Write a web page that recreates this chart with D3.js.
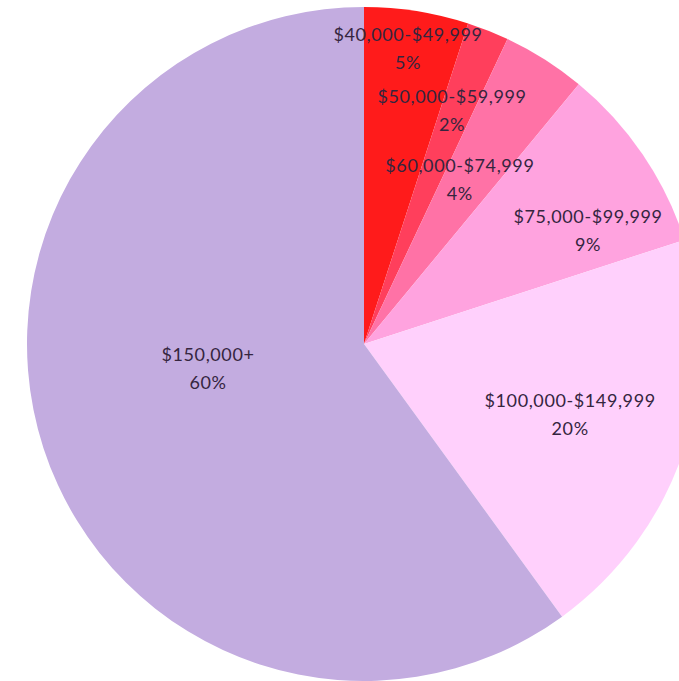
<!DOCTYPE html>
<html>
<head>
<meta charset="utf-8">
<script src="https://cdn.jsdelivr.net/npm/d3@7"></script>
<style>
  html, body { margin: 0; padding: 0; background: #ffffff; }
  svg { display: block; }
</style>
</head>
<body>
<svg id="chart" width="679" height="681"></svg>
<script>
// ---- data ----
const categories = ["$40,000-$49,999", "$50,000-$59,999", "$60,000-$74,999", "$75,000-$99,999", "$100,000-$149,999", "$150,000+"];
const shares = [5, 2, 4, 9, 20, 60];
const shareLabels = ["5%", "2%", "4%", "9%", "20%", "60%"];

// ---- styling / layout ----
const colors = ["#ff1b1b", "#ff3f5c", "#ff72a6", "#ffa3df", "#ffd0fc", "#c3ace0"];
const labelRadius = [298, 249, 190, 251, 218, 158];
const labelNudgeDeg = [-0.5, -0.9, -2.1, 7.4, 1.0, 8.9];

const width = 679, height = 681;
const cx = 364, cy = 344, radius = 337;

const svg = d3.select("#chart");
const g = svg.append("g").attr("transform", `translate(${cx},${cy})`);

const pie = d3.pie().sort(null).value(d => d.value);
const data = categories.map((c, i) => ({ cat: c, value: shares[i], label: shareLabels[i], i }));
const arcs = pie(data);

const arc = d3.arc().innerRadius(0).outerRadius(radius);

g.selectAll("path.slice")
  .data(arcs)
  .join("path")
  .attr("class", "slice")
  .attr("d", arc)
  .attr("fill", d => colors[d.data.i]);

const labels = g.selectAll("g.label")
  .data(arcs)
  .join("g")
  .attr("class", "label")
  .attr("transform", d => {
    const a = (d.startAngle + d.endAngle) / 2 + labelNudgeDeg[d.data.i] * Math.PI / 180;
    const r = labelRadius[d.data.i];
    return `translate(${r * Math.sin(a)},${-r * Math.cos(a)})`;
  });

const textStyle = sel => sel
  .attr("text-anchor", "middle")
  .attr("font-family", "Lato, 'Open Sans', sans-serif")
  .attr("font-size", 18)
  .attr("letter-spacing", 0.6)
  .attr("fill", "#35253f");

labels.append("text")
  .call(textStyle)
  .attr("y", -8)
  .text(d => d.data.cat);

labels.append("text")
  .call(textStyle)
  .attr("y", 20)
  .text(d => d.data.label);
</script>
</body>
</html>
